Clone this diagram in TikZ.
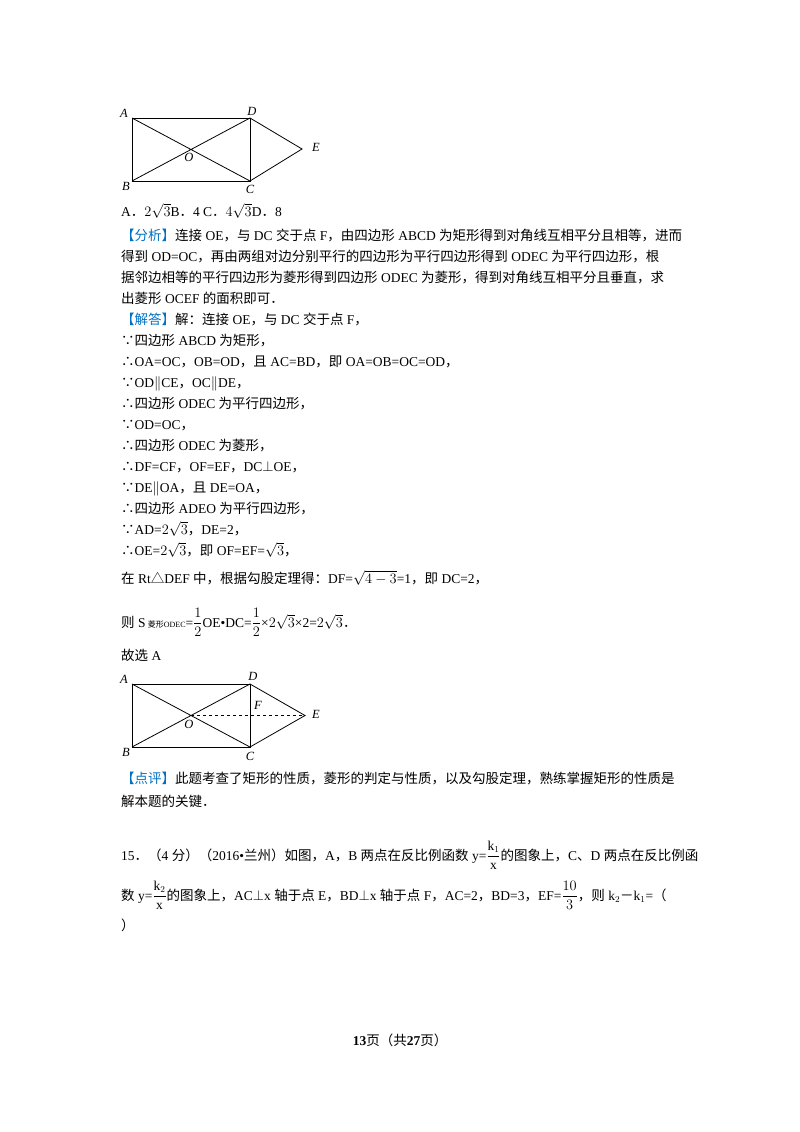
\documentclass[tikz,border=0pt]{standalone}
\usepackage{fontspec}
\usepackage{amsmath}
\setmainfont{Liberation Serif}
\newfontfamily\cjk{Noto Sans CJK SC}
\XeTeXinterchartokenstate=1
\newXeTeXintercharclass\cjkclass
\count255="4E00
\loop\XeTeXcharclass\count255=\cjkclass\advance\count255 1 \ifnum\count255<"9FA6 \repeat
\count255="FF00
\loop\XeTeXcharclass\count255=\cjkclass\advance\count255 1 \ifnum\count255<"FF60 \repeat
\count255="3000
\loop\XeTeXcharclass\count255=\cjkclass\advance\count255 1 \ifnum\count255<"3040 \repeat
\XeTeXcharclass"2234=\cjkclass
\XeTeXcharclass"2235=\cjkclass
\XeTeXcharclass"25B3=\cjkclass
\XeTeXinterchartoks 0 \cjkclass={\cjk}
\XeTeXinterchartoks 4095 \cjkclass={\cjk}
\XeTeXinterchartoks \cjkclass 0={\rmfamily}
\XeTeXinterchartoks \cjkclass 4095={\rmfamily}
\definecolor{tagblue}{RGB}{0,112,192}
\tikzset{
  txt/.style={anchor=base west, inner sep=0pt, font=\fontsize{13.5}{16}\selectfont},
  lbl/.style={inner sep=0pt, font=\fontsize{12.5}{13}\selectfont\itshape},
  seg/.style={line width=0.8pt},
}
\begin{document}
\begin{tikzpicture}[x=1pt,y=-1pt]
\useasboundingbox (0,0) rectangle (800,1132);
% first figure
\coordinate (A1) at (132,118); \coordinate (D1) at (250,118);
\coordinate (B1) at (132,181); \coordinate (C1) at (250,181);
\coordinate (E1) at (302,149); \coordinate (O1) at (191,149.5);
\draw[seg] (A1) -- (D1) -- (C1) -- (B1) -- cycle;
\draw[seg] (A1) -- (C1) (B1) -- (D1) (D1) -- (E1) -- (C1);
\node[lbl] (a1) at (124,113) {A}; \node[lbl] (d1) at (252,111) {D};
\node[lbl] (o1) at (189,157) {O}; \node[lbl] (e1) at (316,147) {E};
\node[lbl] (b1) at (126,186) {B}; \node[lbl] (c1) at (250,189) {C};
% answers and analysis
\node[txt] (ans) at (121,216) {A．$2\sqrt{3}$B．4 C．$4\sqrt{3}$D．8};
\node[txt] (f1) at (121,240) {\textcolor{tagblue}{【分析】}连接 OE，与 DC 交于点 F，由四边形 ABCD 为矩形得到对角线互相平分且相等，进而};
\node[txt] (f2) at (121,261) {得到 OD=OC，再由两组对边分别平行的四边形为平行四边形得到 ODEC 为平行四边形，根};
\node[txt] (f3) at (121,282) {据邻边相等的平行四边形为菱形得到四边形 ODEC 为菱形，得到对角线互相平分且垂直，求};
\node[txt] (f4) at (121,303) {出菱形 OCEF 的面积即可．};
\node[txt] (j1) at (121,324) {\textcolor{tagblue}{【解答】}解：连接 OE，与 DC 交于点 F，};
\node[txt] (j2) at (121,345) {∵四边形 ABCD 为矩形，};
\node[txt] (j3) at (121,366) {∴OA=OC，OB=OD，且 AC=BD，即 OA=OB=OC=OD，};
\node[txt] (j4) at (121,387) {∵OD$\parallel$CE，OC$\parallel$DE，};
\node[txt] (j5) at (121,408) {∴四边形 ODEC 为平行四边形，};
\node[txt] (j6) at (121,429) {∵OD=OC，};
\node[txt] (j7) at (121,450) {∴四边形 ODEC 为菱形，};
\node[txt] (j8) at (121,471) {∴DF=CF，OF=EF，DC$\perp$OE，};
\node[txt] (j9) at (121,492) {∵DE$\parallel$OA，且 DE=OA，};
\node[txt] (j10) at (121,513) {∴四边形 ADEO 为平行四边形，};
\node[txt] (j11) at (121,534) {∵AD=$2\sqrt{3}$，DE=2，};
\node[txt] (j12) at (121,555) {∴OE=$2\sqrt{3}$，即 OF=EF=$\sqrt{3}$，};
\node[txt] (j13) at (121,583) {在 Rt△DEF 中，根据勾股定理得：DF=$\sqrt{4-3}$=1，即 DC=2，};
\node[txt] (j14) at (121,627) {则 S\,{\fontsize{8}{9}\selectfont 菱形ODEC}=$\dfrac{1}{2}$OE•DC=$\dfrac{1}{2}$×$2\sqrt{3}$×2=$2\sqrt{3}$．};
\node[txt] (j15) at (121,660) {故选 A};
% second figure
\coordinate (A2) at (132,684); \coordinate (D2) at (250,684);
\coordinate (B2) at (132,747); \coordinate (C2) at (250,747);
\coordinate (E2) at (305,715.5); \coordinate (O2) at (191,715.5);
\coordinate (F2) at (250,715.5);
\draw[seg] (A2) -- (D2) -- (C2) -- (B2) -- cycle;
\draw[seg] (A2) -- (C2) (B2) -- (D2) (D2) -- (E2) -- (C2);
\draw[dashed, line width=0.6pt] (O2) -- (E2);
\node[lbl] (a2) at (124,679) {A}; \node[lbl] (d2) at (253,676) {D};
\node[lbl] (f2l) at (258,705) {F}; \node[lbl] (o2) at (189,724) {O};
\node[lbl] (e2) at (316,714) {E}; \node[lbl] (b2) at (126,752) {B};
\node[lbl] (c2) at (250,756) {C};
% comment
\node[txt] (p1) at (121,783) {\textcolor{tagblue}{【点评】}此题考查了矩形的性质，菱形的判定与性质，以及勾股定理，熟练掌握矩形的性质是};
\node[txt] (p2) at (121,806) {解本题的关键．};
% next problem
\node[txt] (q1) at (121,860) {15．（4 分）（2016•兰州）如图，A，B 两点在反比例函数 y=$\dfrac{\mathrm{k}_1}{\mathrm{x}}$的图象上，C、D 两点在反比例函};
\node[txt] (q2) at (121,900) {数 y=$\dfrac{\mathrm{k}_2}{\mathrm{x}}$的图象上，AC$\perp$x 轴于点 E，BD$\perp$x 轴于点 F，AC=2，BD=3，EF=$\dfrac{10}{3}$，则 k$_2$－k$_1$=（};
\node[txt] (q3) at (121,930) {）};
% footer
\node[txt, anchor=base] (pg) at (400,1045) {\textbf{13}页（共\textbf{27}页）};
\end{tikzpicture}
\end{document}
